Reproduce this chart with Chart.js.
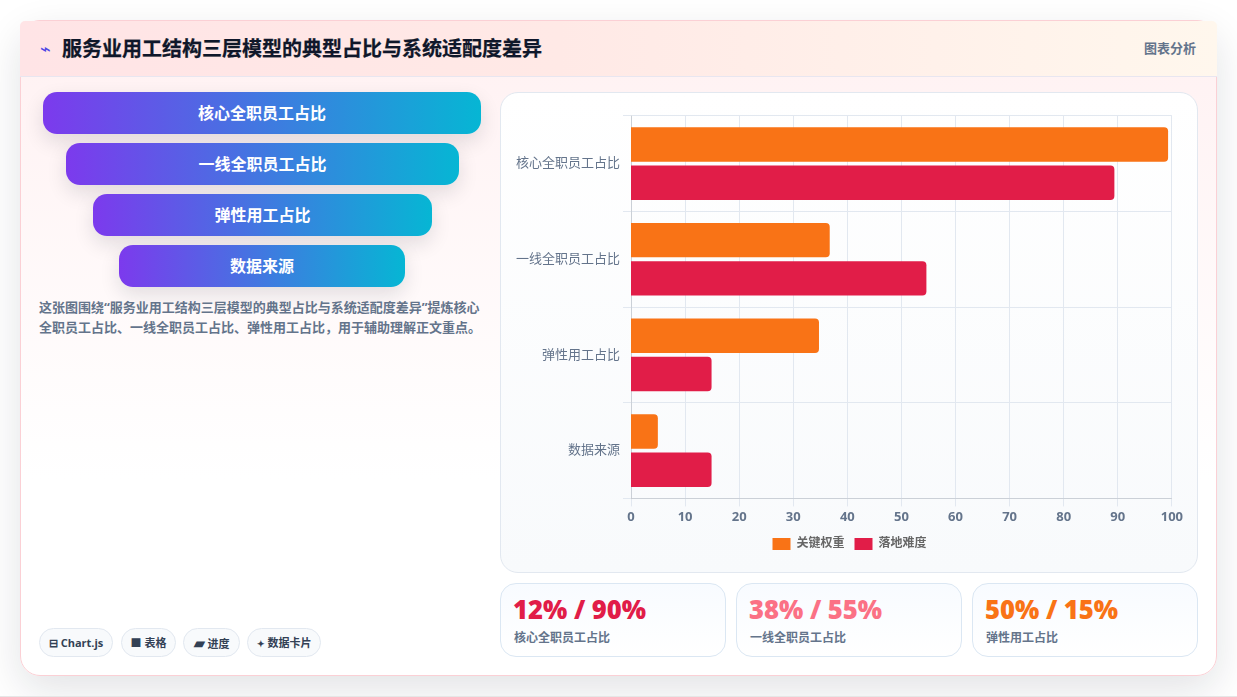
<!DOCTYPE html>
<html lang="zh-CN">
<head>
<meta charset="utf-8">
<title>服务业用工结构三层模型</title>
<script src="https://cdn.jsdelivr.net/npm/chart.js@4"></script>
<style>
  * { box-sizing: border-box; margin: 0; padding: 0; }
  html, body { width: 1237px; height: 697px; overflow: hidden; background: #fff; }
  body { font-family: "Open Sans", "Noto Sans CJK SC", sans-serif; position: relative; }
  .page-foot { position: absolute; left: 0; right: 0; bottom: 0; height: 1px; background: #e6e6e6; }
  .card {
    position: absolute; left: 20px; top: 20px; width: 1197px; height: 656px;
    border: 1px solid #fbd0d5; border-radius: 20px;
    background: linear-gradient(180deg, #fff1f2 0%, #ffffff 70%);
    box-shadow: 0 14px 40px rgba(15, 23, 42, .12);
  }
  .head {
    position: absolute; left: -1px; top: 0; right: -1px; height: 56px;
    border-radius: 5px 5px 0 0;
    background: linear-gradient(90deg, #ffe4e6 0%, #ffe9e6 45%, #fff7ed 100%);
    border-bottom: 1px solid #e8e6f0;
  }
  .head .mark { position: absolute; left: 20px; top: 16px; font-size: 18px; line-height: 22px; color: #4f46e5; }
  .head h1 { position: absolute; left: 42px; top: 14px; font-size: 20px; line-height: 28px; font-weight: 700; color: #0f172a; white-space: nowrap; -webkit-text-stroke: .25px #0f172a; }
  .head span.tag { position: absolute; right: 21px; top: 18px; font-size: 13px; line-height: 18px; font-weight: 700; color: #64748b; }
  .pill {
    position: absolute; height: 42px; border-radius: 14px; color: #fff; text-align: center;
    font-size: 16px; line-height: 42px; font-weight: 700;
    background: linear-gradient(90deg, #7c3aed, #06b6d4);
    box-shadow: 0 8px 20px rgba(15, 23, 42, .12);
  }
  .note { position: absolute; left: 18px; top: 276px; width: 445px; font-size: 13px; line-height: 20px; font-weight: 700; color: #64748b; }
  .chip {
    position: absolute; top: 607px; height: 29px; border: 1px solid #e2e8f0; border-radius: 15px;
    background: #f8fafc; font-size: 11px; line-height: 27px; font-weight: 700; color: #334155;
    text-align: center; white-space: nowrap;
  }
  .chip span { margin-right: 3px; }
  .chart-box {
    position: absolute; left: 479px; top: 71px; width: 698px; height: 481px;
    border: 1px solid #e2e8f0; border-radius: 18px;
    background: linear-gradient(180deg, #ffffff, #f8fafc);
  }
  .chart-box canvas { position: absolute; left: 12px; top: 12px; }
  .stat {
    position: absolute; top: 562px; width: 226px; height: 74px;
    border: 1px solid #dbe7f3; border-radius: 16px;
    background: linear-gradient(180deg, #f8fbff, #ffffff);
  }
  .stat b { position: absolute; left: 12px; top: 9px; font: 800 25.6px/34px "Open Sans", sans-serif; white-space: nowrap; }
  .stat i { position: absolute; left: 13px; top: 45px; font-style: normal; font-size: 12px; line-height: 17px; font-weight: 700; color: #64748b; white-space: nowrap; }
</style>
</head>
<body>
<div class="card">
  <div class="head">
    <span class="mark">⌁</span>
    <h1>服务业用工结构三层模型的典型占比与系统适配度差异</h1>
    <span class="tag">图表分析</span>
  </div>
  <div id="pills"></div>
  <p class="note">这张图围绕“服务业用工结构三层模型的典型占比与系统适配度差异”提炼核心全职员工占比、一线全职员工占比、弹性用工占比，用于辅助理解正文重点。</p>
  <div id="chips"></div>
  <div class="chart-box"><canvas id="bars" width="673" height="455"></canvas></div>
  <div id="stats"></div>
</div>
<div class="page-foot"></div>
<script>
// Categories and series
const categories = ['核心全职员工占比', '一线全职员工占比', '弹性用工占比', '数据来源'];
const keyWeight = [100, 37, 35, 5];
const rolloutDifficulty = [90, 55, 15, 15];
const xTicks = [0, 10, 20, 30, 40, 50, 60, 70, 80, 90, 100];

// Side panel content
const pillLefts = [22, 45, 72, 98];
const pillWidths = [438, 393, 339, 286];
const pillTops = [71, 122, 173, 224];
const chipIcons = ['⊟', '■', '▰', '✦'];
const chipIconSizes = [11, 11, 14, 9];
const chipLabels = ['Chart.js', '表格', '进度', '数据卡片'];
const chipLefts = [18, 100, 162, 226];
const chipWidths = [74, 55, 57, 74];
const statValues = ['12% / 90%', '38% / 55%', '50% / 15%'];
const statNames = ['核心全职员工占比', '一线全职员工占比', '弹性用工占比'];
const statColors = ['#e11d48', '#fb7185', '#f97316'];
const statLefts = [479, 715, 951];

categories.forEach((name, i) => {
  const el = document.createElement('div');
  el.className = 'pill';
  el.textContent = name;
  el.style.left = pillLefts[i] + 'px';
  el.style.width = pillWidths[i] + 'px';
  el.style.top = pillTops[i] + 'px';
  document.getElementById('pills').appendChild(el);
});

chipLabels.forEach((text, i) => {
  const el = document.createElement('div');
  el.className = 'chip';
  el.innerHTML = `<span style="font-size:${chipIconSizes[i]}px">${chipIcons[i]}</span>${text}`;
  el.style.left = chipLefts[i] + 'px';
  el.style.width = chipWidths[i] + 'px';
  document.getElementById('chips').appendChild(el);
});

statValues.forEach((text, i) => {
  const el = document.createElement('div');
  el.className = 'stat';
  el.style.left = statLefts[i] + 'px';
  el.innerHTML = `<b style="color:${statColors[i]}">${text}</b><i>${statNames[i]}</i>`;
  document.getElementById('stats').appendChild(el);
});

const gridColor = '#e2e8f0';
Chart.defaults.font.family = '"Open Sans", "Noto Sans CJK SC", sans-serif';

new Chart(document.getElementById('bars'), {
  type: 'bar',
  data: {
    labels: categories,
    datasets: [
      { label: '关键权重', data: keyWeight, backgroundColor: '#f97316', xAxisID: 'xBars', borderRadius: 4 },
      { label: '落地难度', data: rolloutDifficulty, backgroundColor: '#e11d48', xAxisID: 'xBars', borderRadius: 4 }
    ]
  },
  options: {
    indexAxis: 'y',
    responsive: false,
    animation: false,
    layout: { padding: { top: 8, bottom: 0 } },
    scales: {
      x: {
        min: 0,
        max: 100,
        afterBuildTicks: axis => { axis.ticks = xTicks.map(v => ({ value: v })); },
        grid: { color: gridColor },
        ticks: { color: '#64748b', font: { size: 13, weight: '700' } }
      },
      // bars sit on their own hidden axis, a touch wider than the labelled one
      xBars: { display: false, min: 0, max: 100.7 },
      y: {
        grid: { color: gridColor },
        ticks: { color: '#64748b', font: { size: 13 } }
      }
    },
    plugins: {
      legend: {
        position: 'bottom',
        labels: { boxWidth: 18, boxHeight: 12, font: { size: 12, weight: '700' } }
      },
      tooltip: { enabled: false }
    }
  }
});
</script>
</body>
</html>
